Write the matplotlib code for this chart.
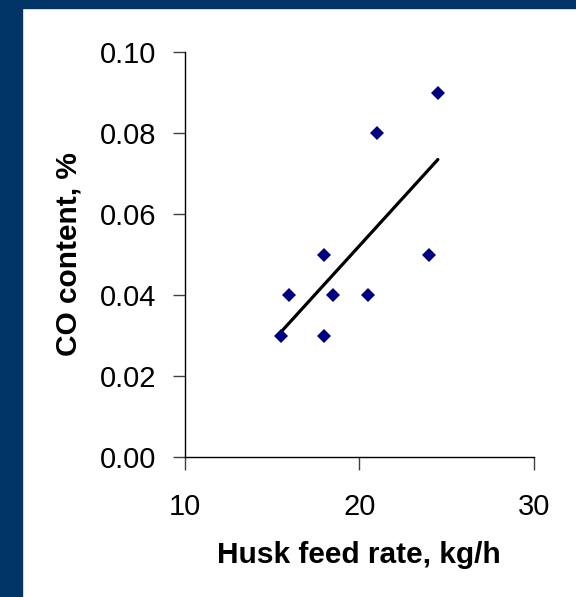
import matplotlib.pyplot as plt
import numpy as np
from matplotlib.patches import Rectangle

plt.rcParams['font.family'] = ['Liberation Sans', 'DejaVu Sans']

# husk feed rate [kg/h] vs CO content [%]
feed_rate = [15.5, 16.0, 18.0, 18.0, 18.5, 20.5, 21.0, 24.0, 24.5]
co_content = [0.03, 0.04, 0.05, 0.03, 0.04, 0.04, 0.08, 0.05, 0.09]
x_ticks = [10, 20, 30]
y_ticks = [0.00, 0.02, 0.04, 0.06, 0.08, 0.10]

W, H = 576, 597
fig = plt.figure(figsize=(W / 100, H / 100), dpi=100, facecolor='white')

# dark blue slide frame (left + top)
navy_bg = '#003366'
fig.add_artist(Rectangle((0, 0), 22 / W, 1, transform=fig.transFigure, color=navy_bg, zorder=0))
fig.add_artist(Rectangle((0, 1 - 8 / H), 1, 8 / H, transform=fig.transFigure, color=navy_bg, zorder=0))

ax = fig.add_axes([184.5 / W, 140 / H, 349.5 / W, 405 / H])
ax.set_facecolor('white')

ax.plot(feed_rate, co_content, 'D', color='#000080', ms=7.2, mew=0, zorder=3)

# linear trend line over the data range
k, b = np.polyfit(feed_rate, co_content, 1)
xx = np.array([min(feed_rate), max(feed_rate)])
ax.plot(xx, k * xx + b, color='black', lw=2.3, solid_capstyle='round', zorder=2)

ax.set_xlim(10, 30)
ax.set_ylim(0, 0.10)
ax.set_xticks(x_ticks)
ax.set_yticks(y_ticks)
ax.set_yticklabels(['%.2f' % v for v in y_ticks])

for s in ['top', 'right']:
    ax.spines[s].set_visible(False)
for s in ['left', 'bottom']:
    ax.spines[s].set_linewidth(1)
    ax.spines[s].set_color('black')

ax.tick_params(axis='both', direction='out', length=9, width=1, color='#404040', labelsize=21)
ax.tick_params(axis='x', pad=17)
ax.tick_params(axis='y', pad=11.5)

ax.set_xlabel('Husk feed rate, kg/h', fontsize=21.5, fontweight='bold', labelpad=14)
ax.set_ylabel('CO content, %', fontsize=21.5, fontweight='bold', labelpad=12)

fig.savefig('out.png', dpi=100, facecolor='white')
